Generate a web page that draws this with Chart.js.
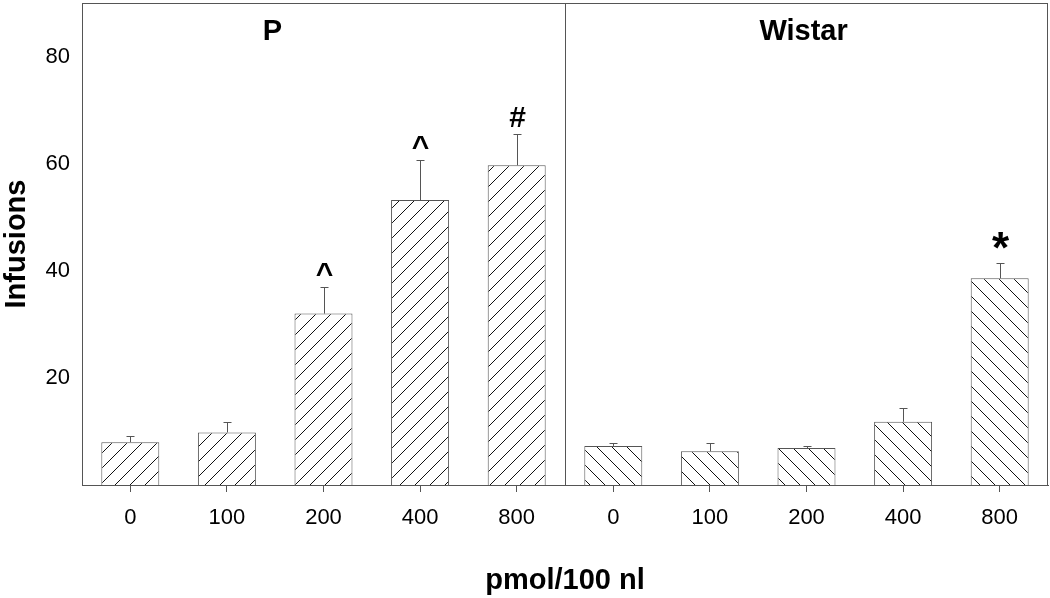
<!DOCTYPE html>
<html>
<head>
<meta charset="utf-8">
<script src="https://cdn.jsdelivr.net/npm/chart.js@4"></script>
<style>
  html, body { margin: 0; padding: 0; background: #fff; }
  #wrap { width: 1050px; height: 598px; }
</style>
</head>
<body>
<div id="wrap"><canvas id="infChart"></canvas></div>
<script>
// data (mean + SEM, infusions)
const doseLabels = ['0', '100', '200', '400', '800'];
const pMeans = [8.0, 9.8, 32.0, 53.2, 59.7];
const pSem = [1.1, 2.0, 4.9, 7.5, 5.8];
const wistarMeans = [7.3, 6.3, 6.9, 11.8, 38.6];
const wistarSem = [0.6, 1.5, 0.4, 2.6, 2.9];
const pMarks = ['', '', '^', '^', '#'];
const wistarMarks = ['', '', '', '', '*'];
const yTicks = [20, 40, 60, 80];

const FONT = "'Liberation Sans', Arial, sans-serif";
const LINE = '#555';

const canvas = document.getElementById('infChart');
const ctx = canvas.getContext('2d');

// diagonal hatch fill, dir 1 = "/", -1 = "\"
function hatch(dir) {
    const s = 15;
    const c = document.createElement('canvas');
    c.width = s; c.height = s;
    const g = c.getContext('2d');
    g.fillStyle = '#fff';
    g.fillRect(0, 0, s, s);
    g.strokeStyle = '#111';
    g.lineWidth = 1;
    g.beginPath();
    for (let k = -1; k <= 1; k++) {
        if (dir > 0) { g.moveTo(k * s, s); g.lineTo(k * s + s, 0); }
        else { g.moveTo(k * s, 0); g.lineTo(k * s + s, s); }
    }
    g.stroke();
    return ctx.createPattern(c, 'repeat');
}
const pFill = hatch(1);
const wFill = hatch(-1);

const means = pMeans.concat(wistarMeans);
const sems = pSem.concat(wistarSem);
const marks = pMarks.concat(wistarMarks);

const overlay = {
    id: 'overlay',
    afterDatasetsDraw(chart) {
        const { ctx, chartArea: a, scales: { x, y } } = chart;
        const bars = chart.getDatasetMeta(0).data;
        ctx.save();
        ctx.strokeStyle = LINE;
        ctx.lineWidth = 1;

        // frame + divider between the two strains
        ctx.strokeRect(Math.round(a.left) + 0.5, Math.round(a.top) + 0.5,
            Math.round(a.right - a.left) - 1, Math.round(a.bottom - a.top));
        const dx = Math.round((x.getPixelForValue(4) + x.getPixelForValue(5)) / 2) + 0.5;
        ctx.beginPath();
        ctx.moveTo(dx, a.top);
        ctx.lineTo(dx, a.bottom);
        ctx.stroke();

        // error bars (upper only) and significance marks
        bars.forEach((b, i) => {
            const xc = Math.round(b.x) + 0.5;
            const yTop = Math.round(y.getPixelForValue(means[i] + sems[i])) + 0.5;
            ctx.strokeStyle = LINE;
            ctx.beginPath();
            ctx.moveTo(xc, b.y);
            ctx.lineTo(xc, yTop);
            ctx.moveTo(xc - 4, yTop);
            ctx.lineTo(xc + 4, yTop);
            ctx.stroke();

            if (marks[i]) {
                const star = marks[i] === '*';
                ctx.fillStyle = '#000';
                ctx.font = 'bold ' + (star ? 44 : 30) + 'px ' + FONT;
                ctx.textAlign = 'center';
                ctx.textBaseline = 'alphabetic';
                const m = ctx.measureText(marks[i]);
                const cy = yTop - (star ? 23 : 18);
                ctx.fillText(marks[i], xc, cy + (m.actualBoundingBoxAscent - m.actualBoundingBoxDescent) / 2);
            }
        });

        // strain labels
        ctx.fillStyle = '#000';
        ctx.font = 'bold 29px ' + FONT;
        ctx.textAlign = 'center';
        ctx.textBaseline = 'middle';
        ctx.fillText('P', x.getPixelForValue(1.47), y.getPixelForValue(84.5));
        ctx.fillText('Wistar', x.getPixelForValue(6.97), y.getPixelForValue(84.5));
        ctx.restore();
    }
};

const infConfig = {
    type: 'bar',
    data: {
        labels: doseLabels.concat(doseLabels),
        datasets: [{
            label: 'Infusions',
            data: means,
            backgroundColor: means.map((v, i) => i < pMeans.length ? pFill : wFill),
            borderColor: LINE,
            borderWidth: 1,
            barPercentage: 0.6,
            categoryPercentage: 1
        }]
    },
    options: {
        responsive: true,
        maintainAspectRatio: false,
        animation: false,
        layout: { padding: { top: 3, right: 2, left: 0, bottom: 0 } },
        plugins: {
            legend: { display: false },
            tooltip: { enabled: false }
        },
        scales: {
            x: {
                grid: { display: true, offset: false, drawOnChartArea: false, drawTicks: true, tickLength: 7, color: LINE },
                border: { display: true, color: LINE },
                ticks: { color: '#000', padding: 13, font: { family: FONT, size: 22 } },
                title: { display: true, text: 'pmol/100 nl', color: '#000', padding: 0,
                         font: { family: FONT, size: 29, weight: 'bold' } },
                afterFit: s => { s.height = 113; }
            },
            y: {
                min: 0,
                max: 90,
                afterBuildTicks: s => { s.ticks = yTicks.map(v => ({ value: v })); },
                grid: { display: false, drawTicks: false },
                border: { display: true, color: LINE },
                ticks: { color: '#000', padding: 12, font: { family: FONT, size: 22 } },
                title: { display: true, text: 'Infusions', color: '#000', padding: 0,
                         font: { family: FONT, size: 29, weight: 'bold' } },
                afterFit: s => { s.width = 82; s.paddingTop = 0; s.paddingBottom = 0; }
            }
        }
    },
    plugins: [overlay]
};
const infChart = new Chart(ctx, infConfig);
</script>
</body>
</html>
